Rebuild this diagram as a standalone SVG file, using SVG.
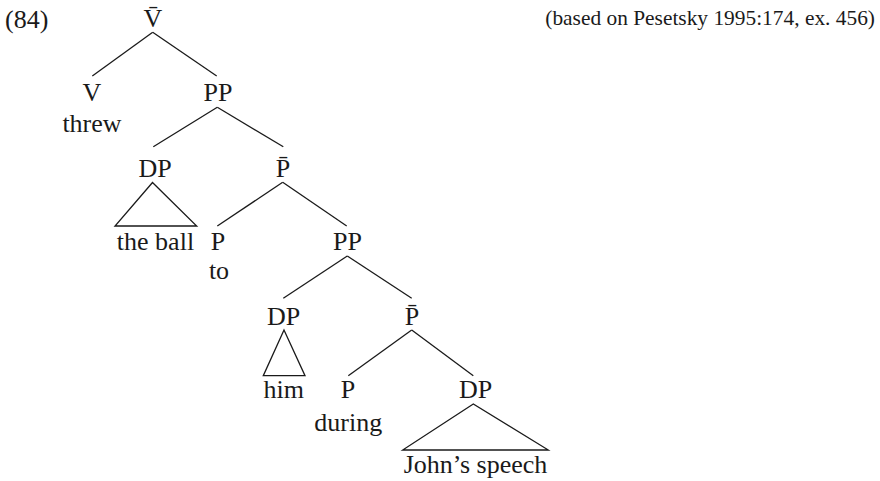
<svg xmlns="http://www.w3.org/2000/svg" width="880" height="481" viewBox="0 0 880 481">
<style>
text{font-family:"Liberation Serif","Times New Roman",serif;font-size:26px;fill:#1a1a1a;text-anchor:middle}
.ref{font-size:21.4px;text-anchor:end}
.num{text-anchor:start}
line,polygon{stroke:#1a1a1a;stroke-width:1.3;fill:none}
</style>
<rect width="880" height="481" fill="#fff"/>
<text class="num" x="5" y="28">(84)</text>
<text class="ref" x="875" y="25">(based on Pesetsky 1995:174, ex. 456)</text>
<g id="connectors">
<line x1="152.7" y1="32.3" x2="92.3" y2="76"/>
<line x1="152.7" y1="32.3" x2="216.7" y2="76"/>
<line x1="217.3" y1="107.3" x2="153.3" y2="146.7"/>
<line x1="217.3" y1="107.3" x2="283.3" y2="146.7"/>
<line x1="282.7" y1="182.3" x2="217.3" y2="226"/>
<line x1="282.7" y1="182.3" x2="346.7" y2="226"/>
<line x1="347.3" y1="256" x2="283.3" y2="298.3"/>
<line x1="347.3" y1="256" x2="411.7" y2="298.3"/>
<line x1="411.7" y1="330" x2="348.3" y2="375.7"/>
<line x1="411.7" y1="330" x2="473.3" y2="375.7"/>
</g>
<g id="n0"><text x="153" y="27">V̄</text></g>
<g id="n1"><text x="92" y="101">V</text><text x="92" y="132">threw</text></g>
<g id="n2"><text x="218" y="101">PP</text></g>
<g id="n3"><text x="155" y="177">DP</text><polygon points="152.5,182.5 115,226 196.7,226"/><text x="155.5" y="250">the ball</text></g>
<g id="n4"><text x="283" y="177">P̄</text></g>
<g id="n5"><text x="218" y="250">P</text><text x="219" y="279">to</text></g>
<g id="n6"><text x="347.5" y="250">PP</text></g>
<g id="n7"><text x="283.5" y="325">DP</text><polygon points="284,330 263.3,375.7 305,375.7"/><text x="283.7" y="398.3">him</text></g>
<g id="n8"><text x="412" y="325">P̄</text></g>
<g id="n9"><text x="348" y="398.3">P</text><text x="348.3" y="431">during</text></g>
<g id="n10"><text x="475.5" y="398.3">DP</text><polygon points="473.3,404 402.7,450 548.3,450"/><text x="475.5" y="473">John’s speech</text></g>
</svg>
